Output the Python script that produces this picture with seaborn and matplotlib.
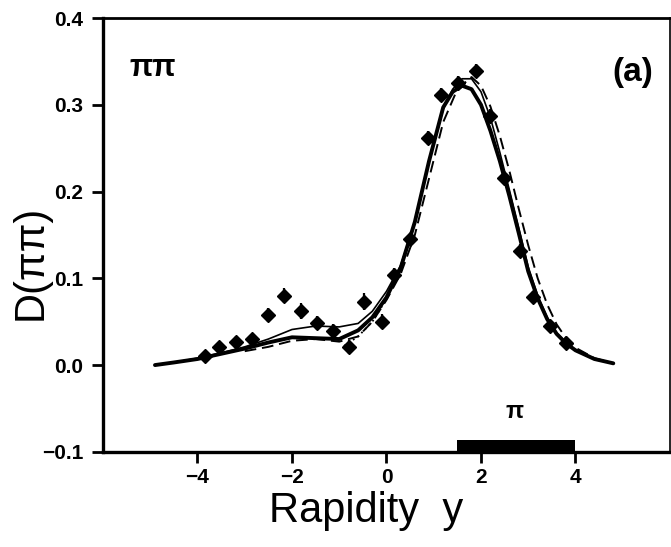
import matplotlib
matplotlib.use("Agg")
import matplotlib.pyplot as plt
import seaborn as sns

sns.set_style("ticks")
plt.rcParams['font.family'] = ['Liberation Sans', 'DejaVu Sans']
plt.rcParams['text.color'] = 'black'

# measured D(pi pi) points with errors
y_pts = [-3.85, -3.54, -3.18, -2.84, -2.5, -2.17, -1.81, -1.47, -1.14, -0.8, -0.48, -0.1,
         0.15, 0.5, 0.88, 1.16, 1.52, 1.9, 2.2, 2.48, 2.82, 3.1, 3.45, 3.8]
d_pts = [0.010, 0.021, 0.027, 0.030, 0.058, 0.080, 0.062, 0.048, 0.039, 0.021, 0.073, 0.050,
         0.104, 0.145, 0.262, 0.311, 0.325, 0.339, 0.287, 0.216, 0.132, 0.079, 0.045, 0.025]
d_err = [0.006, 0.006, 0.006, 0.006, 0.008, 0.009, 0.009, 0.008, 0.008, 0.008, 0.010, 0.009,
         0.008, 0.007, 0.008, 0.008, 0.008, 0.008, 0.008, 0.007, 0.007, 0.006, 0.006, 0.006]

# model curves
curve_x = [-4.9, -4.5, -4, -3.5, -3, -2.5, -2, -1.5, -1, -0.6, -0.3, 0, 0.3, 0.6, 0.9, 1.2,
           1.4, 1.6, 1.8, 2.0, 2.2, 2.4, 2.6, 2.8, 3.0, 3.2, 3.4, 3.6, 3.8, 4.0, 4.4, 4.8]
thick_y = [0.0, 0.003, 0.007, 0.013, 0.019, 0.026, 0.032, 0.031, 0.030, 0.040, 0.055, 0.078,
           0.112, 0.165, 0.235, 0.297, 0.315, 0.322, 0.318, 0.300, 0.270, 0.235, 0.195, 0.152,
           0.108, 0.077, 0.053, 0.036, 0.025, 0.017, 0.007, 0.002]
thin_y = [0.0, 0.003, 0.008, 0.014, 0.021, 0.030, 0.041, 0.045, 0.044, 0.048, 0.062, 0.085,
          0.115, 0.165, 0.235, 0.295, 0.318, 0.330, 0.330, 0.315, 0.285, 0.245, 0.202, 0.158,
          0.113, 0.080, 0.055, 0.037, 0.026, 0.017, 0.007, 0.002]
dash_x = [-3.0, -2.5, -2, -1.5, -1, -0.6, -0.3, 0, 0.3, 0.6, 0.9, 1.2, 1.5, 1.8, 2.0, 2.2,
          2.4, 2.6, 2.8, 3.0, 3.2, 3.4, 3.6, 3.8, 4.0, 4.4, 4.8]
dash_y = [0.016, 0.021, 0.028, 0.030, 0.027, 0.033, 0.050, 0.075, 0.105, 0.150, 0.215, 0.280,
          0.318, 0.332, 0.322, 0.298, 0.264, 0.224, 0.180, 0.138, 0.100, 0.070, 0.047, 0.031,
          0.020, 0.008, 0.002]
dot_x = [-0.9, -0.6, -0.3, 0.0]
dot_y = [0.022, 0.033, 0.050, 0.076]

# pion acceptance bar
pion_range = [1.5, 4.0]
pion_bar = [-0.1, -0.086]

fig = plt.figure(figsize=(6.71, 5.47), dpi=100)
ax = fig.add_axes([0.1535, 0.174, 0.845, 0.793])

sns.lineplot(x=curve_x, y=thick_y, ax=ax, color='black', linewidth=2.8, sort=False)
sns.lineplot(x=curve_x, y=thin_y, ax=ax, color='black', linewidth=1.2, sort=False)
sns.lineplot(x=dash_x, y=dash_y, ax=ax, color='black', linewidth=1.4, sort=False,
             linestyle=(0, (6, 3)))
sns.lineplot(x=dot_x, y=dot_y, ax=ax, color='black', linewidth=1.3, sort=False,
             linestyle=(0, (1, 2)))

ax.errorbar(y_pts, d_pts, yerr=d_err, fmt='D', color='black', markersize=7,
            elinewidth=1.6, capsize=0)

ax.fill_between(pion_range, pion_bar[0], pion_bar[1], color='black', linewidth=0)
ax.text(2.72, -0.053, 'π', fontsize=17, fontweight='bold', ha='center', va='center')

ax.text(-5.45, 0.343, 'ππ', fontsize=22, fontweight='bold', ha='left', va='center')
ax.text(5.65, 0.337, '(a)', fontsize=24, fontweight='bold', ha='right', va='center')

ax.set_xlim(-6, 6)
ax.set_ylim(-0.1, 0.4)
ax.set_xticks([-4, -2, 0, 2, 4])
ax.set_xticklabels(['−4', '−2', '0', '2', '4'])
ax.set_yticks([-0.1, 0.0, 0.1, 0.2, 0.3, 0.4])
ax.set_yticklabels(['−0.1', '0.0', '0.1', '0.2', '0.3', '0.4'])
ax.tick_params(axis='both', direction='out', length=8, width=2, labelsize=15,
               color='black', labelcolor='black')
ax.tick_params(axis='y', pad=6)
for lab in ax.get_xticklabels() + ax.get_yticklabels():
    lab.set_fontweight('bold')
for side in ['left', 'bottom', 'top', 'right']:
    ax.spines[side].set_visible(True)
    ax.spines[side].set_color('black')
ax.spines['left'].set_linewidth(2.4)
ax.spines['bottom'].set_linewidth(2.4)
ax.spines['top'].set_linewidth(2.0)
ax.spines['right'].set_linewidth(1.2)

ax.set_xlabel('')
ax.set_ylabel('')
fig.text(0.545, 0.045, 'Rapidity  y', fontsize=30, ha='center', va='baseline')
fig.text(0.045, 0.52, 'D(ππ)', fontsize=30, ha='center', va='center', rotation=90)

fig.savefig('out.png', dpi=100)
